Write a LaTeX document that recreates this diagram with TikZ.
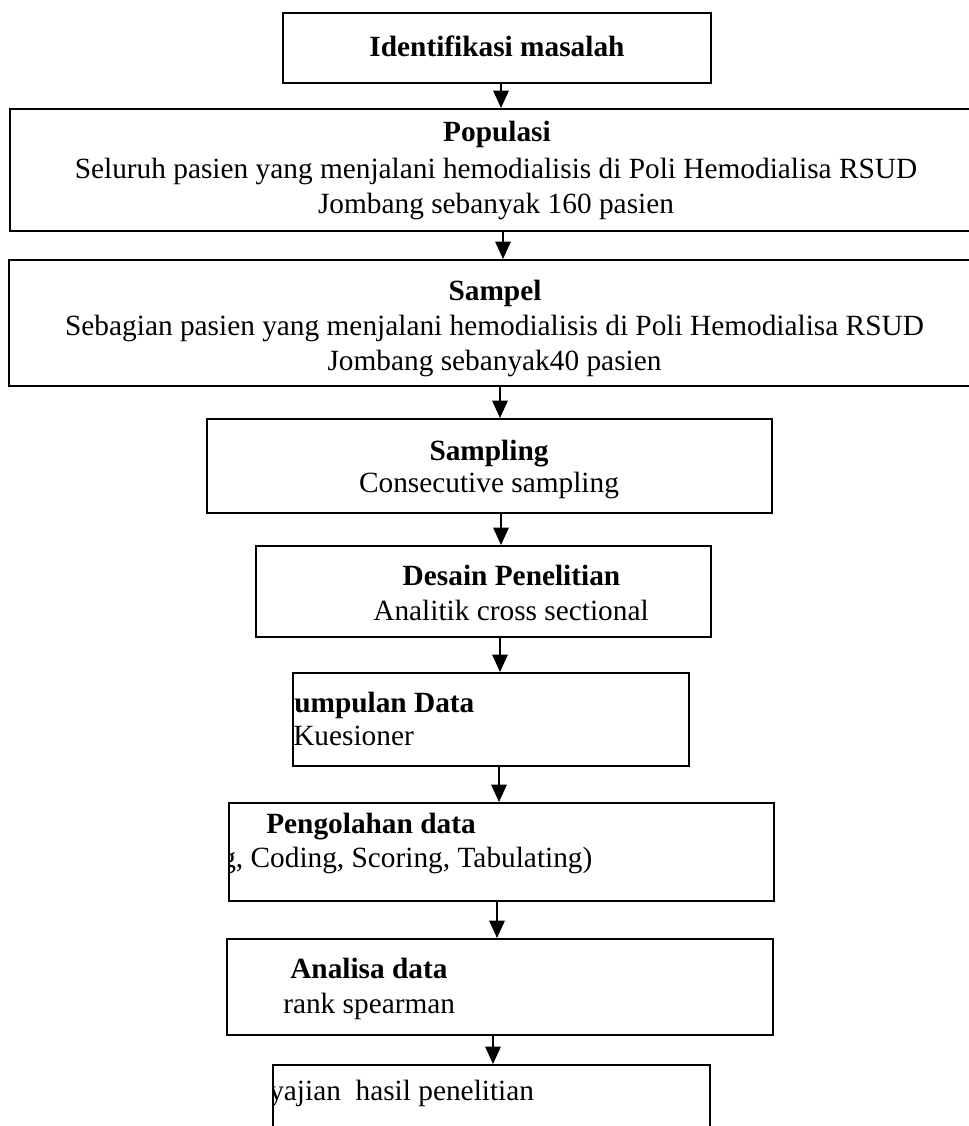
\documentclass[tikz,border=0pt]{standalone}
\usepackage{fontspec}
\setmainfont{Liberation Serif}
\usetikzlibrary{arrows.meta,fit}
\begin{document}
\begin{tikzpicture}[x=0.75pt,y=-0.75pt,
  box/.style={draw,line width=1.5pt,inner sep=0pt},
  txt/.style={inner sep=0pt,font=\fontsize{22}{26.25}\selectfont},
  arr/.style={line width=1.5pt,-{Triangle[length=13pt,width=11.5pt]}}]
\useasboundingbox (0,0) rectangle (968,1126);
% boxes
\node[box,fit={(283,13) (711,83)}] (b1) {};
\node[box,fit={(10,109) (990,231)}] (b2) {};
\node[box,fit={(9,260) (990,386)}] (b3) {};
\node[box,fit={(207,419) (772,513)}] (b4) {};
\node[box,fit={(256,546) (711,637)}] (b5) {};
\node[box,fit={(293,673) (689,766)}] (b6) {};
\node[box,fit={(229,803) (774,901)}] (b7) {};
\node[box,fit={(227,939) (773,1035)}] (b8) {};
\node[box,fit={(273,1065) (710,1150)}] (b9) {};
% texts
\node[txt,anchor=base] (t1) at (497,57) {\bfseries Identifikasi masalah};
\node[txt,anchor=base] (t2a) at (497,142) {\bfseries Populasi};
\node[txt,anchor=base] (t2b) at (496,179) {Seluruh pasien yang menjalani hemodialisis di Poli Hemodialisa RSUD};
\node[txt,anchor=base] (t2c) at (496,214) {Jombang sebanyak 160 pasien};
\node[txt,anchor=base] (t3a) at (495,301) {\bfseries Sampel};
\node[txt,anchor=base] (t3b) at (494.5,336) {Sebagian pasien yang menjalani hemodialisis di Poli Hemodialisa RSUD};
\node[txt,anchor=base] (t3c) at (494.5,370) {Jombang sebanyak40 pasien};
\node[txt,anchor=base] (t4a) at (489,460) {\bfseries Sampling};
\node[txt,anchor=base] (t4b) at (489,492) {Consecutive sampling};
\node[txt,anchor=base] (t5a) at (511.5,585) {\bfseries Desain Penelitian};
\node[txt,anchor=base] (t5b) at (511,620) {Analitik cross sectional};
\begin{scope}
  \clip (b6.south west) rectangle (b6.north east);
  \node[txt,anchor=base west] (t6a) at (294,712) {\bfseries umpulan Data};
  \node[txt,anchor=base west] (t6b) at (293,745) {Kuesioner};
\end{scope}
\begin{scope}
  \clip (b7.south west) rectangle (b7.north east);
  \node[txt,anchor=base west] (t7a) at (266,833) {\bfseries Pengolahan data};
  \node[txt,anchor=base west] (t7b) at (221,867) {g, Coding, Scoring, Tabulating)};
\end{scope}
\node[txt,anchor=base west] (t8a) at (290,978) {\bfseries Analisa data};
\node[txt,anchor=base west] (t8b) at (283,1013) {rank spearman};
\begin{scope}
  \clip (b9.south west) rectangle (b9.north east);
  \node[txt,anchor=base west] (t9) at (269,1100) {yajian\ \ hasil penelitian};
\end{scope}
% connector columns
\coordinate (c1) at (501,0);
\coordinate (c2) at (503,0);
\coordinate (c3) at (500,0);
\coordinate (c4) at (501,0);
\coordinate (c5) at (500,0);
\coordinate (c6) at (499,0);
\coordinate (c7) at (497,0);
\coordinate (c8) at (493,0);
\draw[arr] (b1.south -| c1) -- (b2.north -| c1);
\draw[arr] (b2.south -| c2) -- (b3.north -| c2);
\draw[arr] (b3.south -| c3) -- (b4.north -| c3);
\draw[arr] (b4.south -| c4) -- (b5.north -| c4);
\draw[arr] (b5.south -| c5) -- (b6.north -| c5);
\draw[arr] (b6.south -| c6) -- (b7.north -| c6);
\draw[arr] (b7.south -| c7) -- (b8.north -| c7);
\draw[arr] (b8.south -| c8) -- (b9.north -| c8);
\end{tikzpicture}
\end{document}
